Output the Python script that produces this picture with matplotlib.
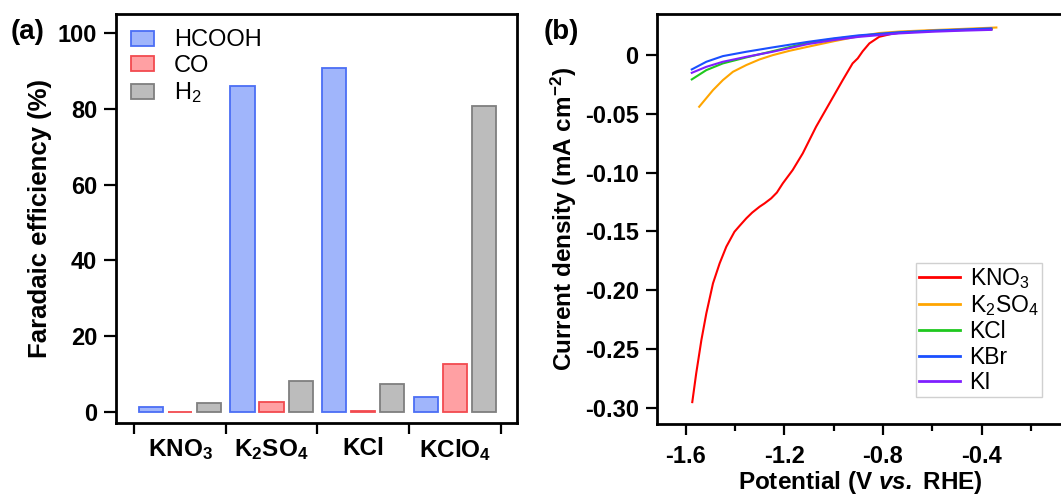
import numpy as np
import matplotlib
matplotlib.use("Agg")
import matplotlib.pyplot as plt

plt.rcParams['font.family'] = ['Liberation Sans', 'DejaVu Sans']
plt.rcParams['mathtext.fontset'] = 'custom'
plt.rcParams['mathtext.rm'] = 'Liberation Sans'
plt.rcParams['mathtext.it'] = 'Liberation Sans:italic'
plt.rcParams['mathtext.bf'] = 'Liberation Sans:bold'
plt.rcParams['mathtext.bfit'] = 'Liberation Sans:bold:italic'
plt.rcParams['axes.unicode_minus'] = False

# (a) faradaic efficiency
salts = [r'KNO$_\mathbf{3}$', r'K$_\mathbf{2}$SO$_\mathbf{4}$', 'KCl', r'KClO$_\mathbf{4}$']
fe_hcooh = [1.2, 86.0, 90.9, 4.0]
fe_co = [0.1, 2.7, 0.4, 12.8]
fe_h2 = [2.5, 8.3, 7.4, 80.7]

# (b) LSV curves
v_kno3 = [-1.573, -1.557, -1.536, -1.516, -1.489, -1.462, -1.435, -1.402, -1.380, -1.354,
          -1.330, -1.300, -1.280, -1.253, -1.230, -1.206, -1.166, -1.125, -1.071, -1.017,
          -0.963, -0.923, -0.902, -0.882, -0.855, -0.815, -0.761, -0.700, -0.600, -0.480, -0.360]
j_kno3 = [-0.295, -0.2705, -0.2422, -0.2196, -0.1941, -0.1771, -0.163, -0.1503, -0.145, -0.1389,
          -0.134, -0.129, -0.1262, -0.1219, -0.117, -0.1092, -0.0979, -0.0837, -0.0611, -0.0413,
          -0.0215, -0.0073, -0.003, 0.003, 0.0097, 0.0153, 0.018, 0.0195, 0.0205, 0.0213, 0.0218]
v_k2so4 = [-1.545, -1.489, -1.449, -1.408, -1.354, -1.300, -1.247, -1.179, -1.105, -1.000,
           -0.909, -0.815, -0.733, -0.600, -0.480, -0.340]
j_k2so4 = [-0.0441, -0.030, -0.0215, -0.0144, -0.0087, -0.0039, -0.0003, 0.0034, 0.0068, 0.0115,
           0.0153, 0.0185, 0.0198, 0.021, 0.022, 0.0232]
v_hal = [-1.575, -1.516, -1.449, -1.354, -1.247, -1.105, -1.000, -0.900, -0.733, -0.600, -0.480, -0.360]
j_kcl = [-0.0209, -0.013, -0.0073, -0.0022, 0.0031, 0.0102, 0.0135, 0.016, 0.0188, 0.0202, 0.021, 0.0218]
j_kbr = [-0.0124, -0.0059, -0.0011, 0.0026, 0.0063, 0.011, 0.014, 0.0165, 0.0192, 0.0205, 0.0215, 0.0225]
j_ki = [-0.0153, -0.0102, -0.0059, -0.0017, 0.0026, 0.0091, 0.0125, 0.0152, 0.0182, 0.0196, 0.0205, 0.0212]

fig = plt.figure(figsize=(10.61, 5.03), dpi=100)

# ---------- panel a ----------
ax1 = fig.add_axes([0.1093, 0.159, 0.378, 0.813])
x = np.arange(len(salts))
w = 0.265
off = 0.317
ax1.bar(x - off, fe_hcooh, w, color='#a0b5fb', edgecolor='#4b6ef5', linewidth=1.3, label='HCOOH')
ax1.bar(x, fe_co, w, color='#ffa0a3', edgecolor='#f24a4f', linewidth=1.3, label='CO')
ax1.bar(x + off, fe_h2, w, color='#bcbcbc', edgecolor='#7f7f7f', linewidth=1.3, label='H$_2$')
ax1.set_xlim(-0.70, 3.68)
ax1.set_ylim(-2.9, 105)
ax1.set_yticks([0, 20, 40, 60, 80, 100])
ax1.set_xticks(np.arange(-0.5, 4.0, 1.0))
ax1.set_xticklabels([])
ax1.set_xticks(x, minor=True)
ax1.set_xticklabels(salts, minor=True)
ax1.tick_params(axis='x', which='major', length=8, width=1.6, direction='out')
ax1.tick_params(axis='x', which='minor', length=0, pad=10, labelsize=17.5)
ax1.tick_params(axis='y', length=8.5, width=1.6, pad=5, labelsize=17)
for lab in ax1.get_xticklabels(minor=True) + ax1.get_yticklabels():
    lab.set_fontweight('bold')
for s in ax1.spines.values():
    s.set_linewidth(2)
ax1.set_ylabel('Faradaic efficiency (%)', fontsize=18.5, fontweight='bold', labelpad=4)
ax1.legend(loc='upper left', bbox_to_anchor=(0.0, 1.0), frameon=False, fontsize=17,
           handlelength=0.95, handleheight=0.6, handletextpad=0.85, labelspacing=0.15,
           borderaxespad=0.45, borderpad=0.2)
fig.text(0.010, 0.936, '(a)', fontsize=20, fontweight='bold', va='center')

# ---------- panel b ----------
ax2 = fig.add_axes([0.619, 0.157, 0.384, 0.815])
ax2.plot(v_kno3, j_kno3, color='#ff0000', lw=1.5, label='KNO$_3$')
ax2.plot(v_k2so4, j_k2so4, color='#ffa500', lw=1.5, label='K$_2$SO$_4$')
ax2.plot(v_hal, j_kcl, color='#1ec81e', lw=1.5, label='KCl')
ax2.plot(v_hal, j_kbr, color='#1a4fff', lw=1.5, label='KBr')
ax2.plot(v_hal, j_ki, color='#7f1fff', lw=1.5, label='KI')
ax2.set_xlim(-1.717, -0.065)
ax2.set_ylim(-0.3136, 0.0346)
ax2.set_xticks([-1.6, -1.2, -0.8, -0.4])
ax2.set_xticklabels(['-1.6', '-1.2', '-0.8', '-0.4'])
ax2.set_xticks([-1.4, -1.0, -0.6, -0.2], minor=True)
yt = [0, -0.05, -0.10, -0.15, -0.20, -0.25, -0.30]
ax2.set_yticks(yt)
ax2.set_yticklabels(['0', '-0.05', '-0.10', '-0.15', '-0.20', '-0.25', '-0.30'])
ax2.tick_params(axis='x', which='major', length=8, width=1.6, pad=7, labelsize=17)
ax2.tick_params(axis='x', which='minor', length=5, width=1.6)
ax2.tick_params(axis='y', length=8, width=1.6, pad=5, labelsize=17)
for lab in ax2.get_xticklabels() + ax2.get_yticklabels():
    lab.set_fontweight('bold')
for s in ax2.spines.values():
    s.set_linewidth(2)
ax2.set_xlabel(r'Potential (V $\mathbfit{vs.}$ RHE)', fontsize=17.5, fontweight='bold', labelpad=1)
ax2.set_ylabel(r'Current density (mA cm$^{\mathregular{-2}}$)', fontsize=17.5, fontweight='bold', labelpad=4)
leg = ax2.legend(loc='lower right', bbox_to_anchor=(0.945, 0.065), fontsize=16.5, fancybox=False,
                 edgecolor='#d0d0d0', framealpha=1, handlelength=1.8, handletextpad=0.4,
                 labelspacing=0.1, borderpad=0.15, borderaxespad=0)
leg.get_frame().set_linewidth(1.0)
for line in leg.get_lines():
    line.set_linewidth(2)
fig.text(0.512, 0.936, '(b)', fontsize=20, fontweight='bold', va='center')

fig.savefig('out.png', dpi=100)
